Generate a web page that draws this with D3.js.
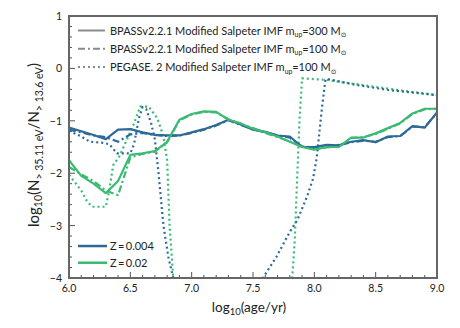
<!DOCTYPE html>
<html>
<head>
<meta charset="utf-8">
<script src="https://cdn.jsdelivr.net/npm/d3@7"></script>
<style>
  body { margin: 0; background: #fff; }
  svg { display: block; font-family: Lato, "DejaVu Sans", sans-serif; }
</style>
</head>
<body>
<svg id="chart" width="460" height="328"></svg>
<script>
// BPASS grid: log age 6.0 .. 9.0 step 0.1
var bpassAge = [6.0,6.1,6.2,6.3,6.4,6.5,6.6,6.7,6.8,6.9,7.0,7.1,7.2,7.3,7.4,7.5,7.6,7.7,7.8,7.9,8.0,8.1,8.2,8.3,8.4,8.5,8.6,8.7,8.8,8.9,9.0];

// Z = 0.004
var blue300 = [-1.13,-1.2,-1.27,-1.35,-1.17,-1.16,-1.22,-1.27,-1.28,-1.28,-1.22,-1.16,-1.08,-0.98,-1.07,-1.17,-1.21,-1.28,-1.3,-1.5,-1.5,-1.46,-1.47,-1.4,-1.37,-1.41,-1.3,-1.29,-1.1,-1.13,-0.84];
var blue100 = [-1.17,-1.22,-1.28,-1.31,-1.4,-1.26,-1.23,-1.27,-1.29,-1.28,-1.23,-1.17,-1.09,-0.99,-1.08,-1.16,-1.22,-1.28,-1.32,-1.49,-1.51,-1.47,-1.46,-1.41,-1.38,-1.4,-1.31,-1.29,-1.11,-1.12,-0.85];
// Z = 0.02
var green300 = [-1.75,-2.05,-2.2,-2.38,-2.15,-1.65,-1.62,-1.58,-1.4,-0.98,-0.87,-0.82,-0.83,-0.98,-1.05,-1.15,-1.22,-1.3,-1.4,-1.5,-1.55,-1.5,-1.5,-1.32,-1.32,-1.24,-1.14,-1.04,-0.86,-0.77,-0.77];
var green100 = [-1.88,-2.02,-2.15,-2.33,-2.42,-1.7,-1.63,-1.59,-1.41,-0.99,-0.88,-0.83,-0.84,-0.97,-1.06,-1.14,-1.23,-1.31,-1.39,-1.49,-1.54,-1.51,-1.49,-1.33,-1.31,-1.25,-1.15,-1.05,-0.87,-0.78,-0.77];

// PEGASE.2 (own time grid)
var bluePegAge = [6.0,6.1,6.17,6.28,6.33,6.39,6.5,6.53,6.57,6.6,6.63,6.67,6.7,6.73,6.77,6.81,6.85,6.9,7.5,7.58,7.69,7.8,7.86,7.94,7.99,8.02,8.06,8.09,8.1,8.35,8.6,9.0];
var bluePeg = [-1.19,-1.3,-1.4,-1.42,-1.45,-1.62,-1.62,-1.45,-0.95,-0.74,-0.78,-1.05,-1.35,-2.0,-3.0,-3.6,-4.0,-4.6,-4.6,-4.0,-3.6,-3.12,-2.9,-2.45,-2.1,-1.7,-0.8,-0.22,-0.2,-0.32,-0.41,-0.51];
var greenPegAge = [6.0,6.1,6.15,6.19,6.3,6.33,6.36,6.41,6.47,6.53,6.58,6.65,6.72,6.77,6.8,6.82,6.85,6.88,7.75,7.82,7.84,7.86,7.88,7.9,8.1,8.4,8.7,9.0];
var greenPeg = [-2.03,-2.33,-2.55,-2.64,-2.64,-2.3,-1.85,-1.68,-1.37,-1.05,-0.73,-0.73,-0.95,-1.3,-1.75,-3.0,-4.0,-4.6,-4.6,-4.0,-3.3,-2.1,-0.95,-0.19,-0.22,-0.32,-0.42,-0.51];

var legendLabels = ["BPASSv2.2.1 Modified Salpeter IMF", "BPASSv2.2.1 Modified Salpeter IMF", "PEGASE. 2 Modified Salpeter IMF"];
var legendMup = ["300", "100", "100"];
var zLabels = ["Z\u2009=\u20090.004", "Z\u2009=\u20090.02"];
var xTicks = [6.0, 6.5, 7.0, 7.5, 8.0, 8.5, 9.0];
var yTicks = [1, 0, -1, -2, -3, -4];

var blue = "#2d6a97", green = "#3bba74", gray = "#8a8a8a";
var dashDot = "7,3,2,3", dotted = "2,3";

var margin = {left: 69, top: 16, right: 23, bottom: 50};
var svg = d3.select("#chart");
var W = 460 - margin.left - margin.right, H = 328 - margin.top - margin.bottom;

var x = d3.scaleLinear().domain([6, 9]).range([0, W]);
var y = d3.scaleLinear().domain([-4, 1]).range([H, 0]);

var g = svg.append("g").attr("transform", "translate(" + margin.left + "," + margin.top + ")");

g.append("defs").append("clipPath").attr("id", "clip")
  .append("rect").attr("width", W).attr("height", H);

// ticks (inside)
var minorX = d3.range(60, 91).map(function(d){ return d / 10; });
var minorY = d3.range(-20, 6).map(function(d){ return d / 5; });
g.selectAll(".mx").data(minorX).enter().append("line")
  .attr("x1", function(d){ return x(d); }).attr("x2", function(d){ return x(d); })
  .attr("y1", H).attr("y2", function(d){ return H - (Math.abs(d*2 - Math.round(d*2)) < 1e-6 ? 6 : 3); })
  .attr("stroke", "#555").attr("stroke-width", 1);
g.selectAll(".my").data(minorY).enter().append("line")
  .attr("y1", function(d){ return y(d); }).attr("y2", function(d){ return y(d); })
  .attr("x1", 0).attr("x2", function(d){ return Math.abs(d - Math.round(d)) < 1e-6 ? 6 : 3; })
  .attr("stroke", "#555").attr("stroke-width", 1);

g.selectAll(".xl").data(xTicks).enter().append("text")
  .attr("x", function(d){ return x(d); }).attr("y", H + 14)
  .attr("text-anchor", "middle").attr("font-size", 10.5).attr("fill", "#222")
  .text(function(d){ return d.toFixed(1); });
g.selectAll(".yl").data(yTicks).enter().append("text")
  .attr("x", -7).attr("y", function(d){ return y(d) + 4; })
  .attr("text-anchor", "end").attr("font-size", 10.5).attr("fill", "#222")
  .text(function(d){ return d < 0 ? "\u2212" + (-d) : d; });

var line = d3.line().x(function(d){ return x(d[0]); }).y(function(d){ return y(d[1]); });
var plot = g.append("g").attr("clip-path", "url(#clip)");

var series = [
  {age: greenPegAge, v: greenPeg, c: green, dash: dotted},
  {age: bluePegAge, v: bluePeg, c: blue, dash: dotted},
  {age: bpassAge, v: green100, c: green, dash: dashDot},
  {age: bpassAge, v: blue100, c: blue, dash: dashDot},
  {age: bpassAge, v: blue300, c: blue, dash: null},
  {age: bpassAge, v: green300, c: green, dash: null}
];
series.forEach(function(s){
  plot.append("path")
    .attr("d", line(s.age.map(function(a, i){ return [a, s.v[i]]; })))
    .attr("fill", "none").attr("stroke", s.c).attr("stroke-width", 2.2)
    .attr("stroke-linejoin", "round")
    .attr("stroke-dasharray", s.dash);
});

// frame
g.append("rect").attr("width", W).attr("height", H)
  .attr("fill", "none").attr("stroke", "#666").attr("stroke-width", 2);

// style legend
var leg = g.append("g").attr("transform", "translate(9,14.5)");
[null, dashDot, dotted].forEach(function(dash, i){
  var row = leg.append("g").attr("transform", "translate(0," + (i * 18.3) + ")");
  row.append("line").attr("x1", 0).attr("x2", 27)
    .attr("stroke", gray).attr("stroke-width", 2).attr("stroke-dasharray", dash);
  var t = row.append("text").attr("x", 32).attr("y", 4).attr("font-size", 11).attr("fill", "#222");
  t.append("tspan").text(legendLabels[i] + " m");
  t.append("tspan").attr("font-size", 6.8).attr("dy", 2.5).text("up");
  t.append("tspan").attr("dy", -2.5).text("=" + legendMup[i] + " M");
  t.append("tspan").attr("font-size", 6.8).attr("dy", 2.5).text("\u2299");
});

// metallicity legend
var zleg = g.append("g").attr("transform", "translate(9," + (y(-3.39)) + ")");
[blue, green].forEach(function(c, i){
  var row = zleg.append("g").attr("transform", "translate(0," + (i * 16.7) + ")");
  row.append("line").attr("x1", 0).attr("x2", 29)
    .attr("stroke", c).attr("stroke-width", 2.5);
  row.append("text").attr("x", 32).attr("y", 4).attr("font-size", 11).attr("fill", "#222")
    .text(zLabels[i]);
});

// axis labels
var xl = svg.append("text").attr("x", margin.left + W / 2 - 4).attr("y", 312)
  .attr("text-anchor", "middle").attr("font-size", 13.5).attr("fill", "#222");
xl.append("tspan").text("log");
xl.append("tspan").attr("font-size", 9.5).attr("dy", 3).text("10");
xl.append("tspan").attr("dy", -3).text("(age/yr)");

var yl = svg.append("text")
  .attr("transform", "translate(39," + (margin.top + H / 2 - 2) + ") rotate(-90)")
  .attr("text-anchor", "middle").attr("font-size", 15).attr("fill", "#222");
yl.append("tspan").text("log");
yl.append("tspan").attr("font-size", 10.5).attr("dy", 3).text("10");
yl.append("tspan").attr("dy", -3).text("(N");
yl.append("tspan").attr("font-size", 10.5).attr("dy", 3.5).text("> 35.11 eV");
yl.append("tspan").attr("dy", -3.5).text("/N");
yl.append("tspan").attr("font-size", 10.5).attr("dy", 3.5).text("> 13.6 eV");
yl.append("tspan").attr("dy", -3.5).text(")");
</script>
</body>
</html>
